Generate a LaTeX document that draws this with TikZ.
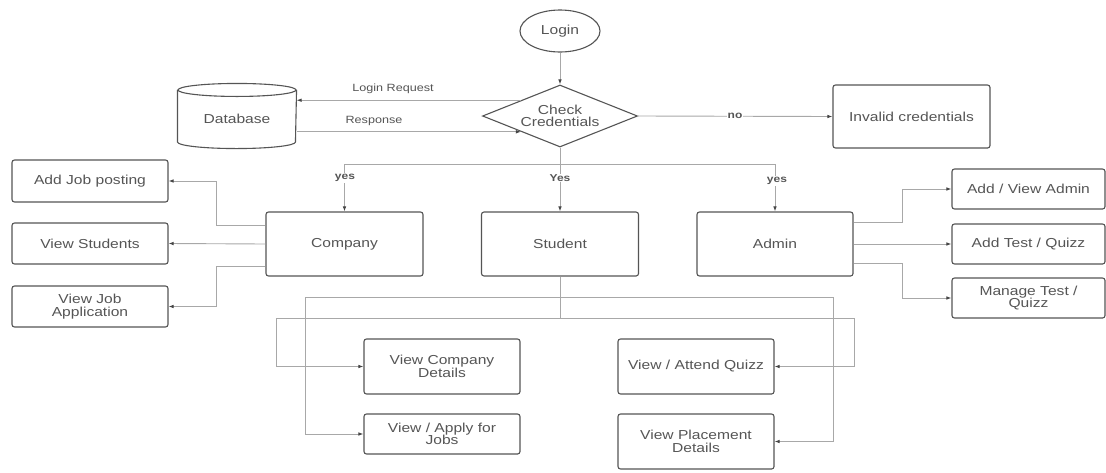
\documentclass[tikz,border=0pt]{standalone}
\usepackage{fontspec}
\setmainfont{Liberation Sans}[FakeStretch=1.2]
\usetikzlibrary{shapes.geometric,arrows.meta,calc}
\definecolor{boxc}{HTML}{555555}
\definecolor{linec}{HTML}{A8A8A8}
\definecolor{txtc}{HTML}{555555}
\definecolor{tipc}{HTML}{454545}
\begin{document}
\begin{tikzpicture}[x=1pt,y=-1pt,
 box/.style={draw=boxc, line width=1.1pt, rounded corners=2.5pt, align=center, inner sep=0pt, text=txtc, font=\fontsize{13}{12.5}\selectfont},
 conn/.style={draw=linec, line width=0.9pt},
 arr/.style={conn, -{Latex[length=5pt,width=3.6pt,color=tipc]}},
 lbl/.style={text=txtc, font=\fontsize{10.5}{12}\selectfont, inner sep=1pt},
 yeslbl/.style={text=txtc, font=\bfseries\fontsize{10}{12}\selectfont, fill=white, inner sep=1pt},
 cyl/.style={draw=boxc, line width=1.1pt}]
\fill[white] (0,0) rectangle (1106,472);

% top
\node[box, ellipse, minimum width=80pt, minimum height=42pt] (login) at (560,31) {Login};
\node[box, diamond, rounded corners=0pt, aspect=2.5, minimum width=155pt, minimum height=62pt] (check) at (560,116) {Check\\[-1pt]Credentials};
\node[box, minimum width=157pt, minimum height=63pt] (inv) at (911.5,116.5) {Invalid credentials};
\node[box, draw=none, minimum width=118pt, minimum height=64pt] (db) at (237,116) {\raisebox{-5pt}[4.5pt][0pt]{Database}};
\draw[cyl] ($(db.north)+(0,6.5)$) ellipse [x radius=59pt, y radius=6.5pt];
\draw[cyl] ($(db.north west)+(0,6.5)$) -- ($(db.south west)+(0,-6.5)$) arc[start angle=180, end angle=360, x radius=59pt, y radius=6.5pt] -- ($(db.north east)+(0,6.5)$);

% middle row
\node[box, minimum width=157pt, minimum height=64pt] (company) at (344.5,244) {Company};
\node[box, minimum width=157pt, minimum height=64pt] (student) at (560,244) {Student};
\node[box, minimum width=156pt, minimum height=64pt] (admin) at (775,244) {Admin};

% left boxes
\node[box, minimum width=156pt, minimum height=42pt] (addjob) at (90,181) {Add Job posting};
\node[box, minimum width=156pt, minimum height=41pt] (vstud) at (90,243.5) {View Students};
\node[box, minimum width=156pt, minimum height=41pt] (vjob) at (90,306.5) {View Job\\Application};

% right boxes
\node[box, minimum width=153pt, minimum height=40pt] (addadmin) at (1028.5,189) {Add / View Admin};
\node[box, minimum width=153pt, minimum height=40pt] (addtest) at (1028.5,244) {Add Test / Quizz};
\node[box, minimum width=153pt, minimum height=40pt] (mantest) at (1028.5,298) {Manage Test /\\Quizz};

% bottom boxes
\node[box, minimum width=156pt, minimum height=55pt] (vcd) at (442,366.5) {View Company\\Details};
\node[box, minimum width=156pt, minimum height=40pt] (apply) at (442,434) {View / Apply for\\Jobs};
\node[box, minimum width=156pt, minimum height=55pt] (quiz) at (696,366.5) {View / Attend Quizz};
\node[box, minimum width=156pt, minimum height=55pt] (place) at (696,441.5) {View Placement\\Details};

% coordinates
\coordinate (br) at (560,164);
\coordinate (s1) at (560,297);
\coordinate (s2) at (560,318);

% top connectors
\draw[arr] (login) -- (check);
\draw[arr] (check.north west) -- (db.east |- check.north west);
\draw[arr] (db.east |- check.south west) -- (check.south west);
\node[lbl] (lreq) at (393,89) {Login Request};
\node[lbl] (lresp) at (374,121) {Response};
\draw[arr] (check.east) -- (inv.west);
\node[yeslbl] (lno) at (735,116) {no};

% branch
\draw[conn] (check.south) -- (br);
\draw[arr] (br) -| (company.north);
\draw[arr] (br) -| (admin.north);
\draw[arr] (br) -- (student.north);
\node[yeslbl] (ly1) at (345,178) {yes};
\node[yeslbl] (ly2) at (560,178) {Yes};
\node[yeslbl] (ly3) at (777,181) {yes};

% company connectors
\draw[arr] ($(company.west)+(0,-19)$) -- ++(-49,0) |- (addjob.east);
\draw[arr] (company.west) -- (vstud.east);
\draw[arr] ($(company.west)+(0,22)$) -- ++(-49,0) |- (vjob.east);

% admin connectors
\draw[arr] ($(admin.east)+(0,-22)$) -- ++(49,0) |- (addadmin.west);
\draw[arr] (admin.east) -- (addtest.west);
\draw[arr] ($(admin.east)+(0,19)$) -- ++(49,0) |- (mantest.west);

% student connectors
\draw[conn] (student.south) -- (s2);
\draw[arr] (s1) -| ($(apply.west)+(-58,0)$) -- (apply.west);
\draw[arr] (s2) -| ($(vcd.west)+(-87,0)$) -- (vcd.west);
\draw[arr] (s2) -| ($(quiz.east)+(80,0)$) -- (quiz.east);
\draw[arr] (s1) -| ($(place.east)+(59,0)$) -- (place.east);
\end{tikzpicture}
\end{document}
